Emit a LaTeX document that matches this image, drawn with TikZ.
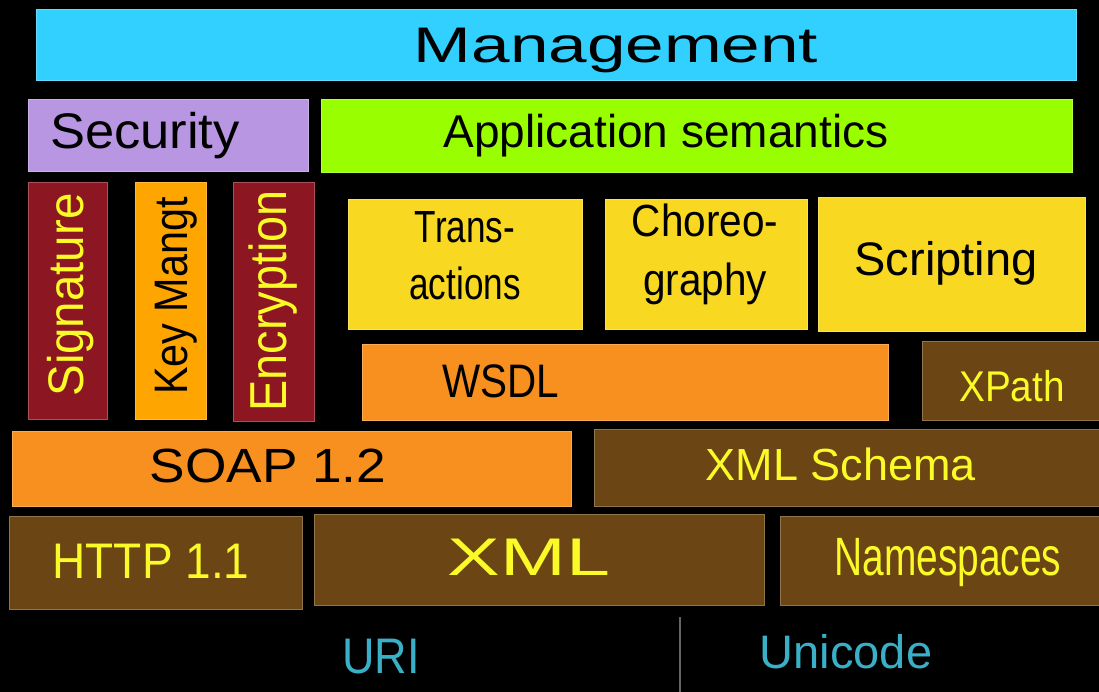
\documentclass[tikz,border=0pt]{standalone}
\usepackage{fontspec}
\usepackage{graphicx}
\setmainfont{Liberation Sans}
\definecolor{cMan}{RGB}{50,208,255}
\definecolor{cSec}{RGB}{185,150,225}
\definecolor{cApp}{RGB}{153,255,0}
\definecolor{cRed}{RGB}{140,22,34}
\definecolor{cKey}{RGB}{255,165,0}
\definecolor{cYel}{RGB}{248,216,32}
\definecolor{cOra}{RGB}{247,144,30}
\definecolor{cBro}{RGB}{107,69,19}
\definecolor{cTxtY}{RGB}{250,250,40}
\definecolor{cTeal}{RGB}{58,176,200}
\definecolor{cDiv}{RGB}{100,100,100}
\newcommand{\fs}[1]{\fontsize{#1}{#1}\selectfont}
\tikzset{
  blk/.style={rectangle, inner sep=0pt, outer sep=0pt, anchor=north west, line width=0.8pt, fill=#1, draw=#1!75!white},
  lbl/.style={inner sep=0pt, outer sep=0pt, anchor=base},
}
\begin{document}
\begin{tikzpicture}[x=1pt,y=-1pt]
\fill[black] (0,0) rectangle (1099,692);
\useasboundingbox (0,0) rectangle (1099,692);
% boxes
\node[blk=cMan, minimum width=1040, minimum height=71] (man) at (36,9) {};
\node[blk=cSec, minimum width=280, minimum height=72] (sec) at (28,99) {};
\node[blk=cApp, minimum width=751, minimum height=73] (app) at (321,99) {};
\node[blk=cRed, minimum width=79, minimum height=237] (sig) at (28,182) {};
\node[blk=cKey, minimum width=71, minimum height=237] (key) at (135,182) {};
\node[blk=cRed, minimum width=81, minimum height=239] (enc) at (233,182) {};
\node[blk=cYel, minimum width=234, minimum height=130] (tra) at (348,199) {};
\node[blk=cYel, minimum width=202, minimum height=130] (cho) at (605,199) {};
\node[blk=cYel, minimum width=267, minimum height=134] (scr) at (818,197) {};
\node[blk=cOra, minimum width=526, minimum height=76] (wsd) at (362,344) {};
\node[blk=cBro, minimum width=180, minimum height=79] (xpa) at (922,341) {};
\node[blk=cOra, minimum width=559, minimum height=75] (soa) at (12,431) {};
\node[blk=cBro, minimum width=508, minimum height=77] (xsc) at (594,429) {};
\node[blk=cBro, minimum width=293, minimum height=93] (htt) at (9,516) {};
\node[blk=cBro, minimum width=450, minimum height=91] (xml) at (314,514) {};
\node[blk=cBro, minimum width=322, minimum height=89] (nsp) at (780,516) {};
% labels
\node[lbl, font=\fs{50}] (tman) at (616,63) {\scalebox{1.385}[1]{Management}};
\node[lbl, font=\fs{50}] (tsec) at (145,149) {\scalebox{1.05}[1]{Security}};
\node[lbl, font=\fs{46}] (tapp) at (666,148) {Application semantics};
\node[lbl, font=\fs{50}, text=cTxtY, rotate=90] (tsig) at (83,295) {\scalebox{0.95}[1]{Signature}};
\node[lbl, font=\fs{47}, text=black, rotate=90] (tkey) at (187,296) {\scalebox{0.88}[1]{Key Mangt}};
\node[lbl, font=\fs{52}, text=cTxtY, rotate=90] (tenc) at (286,301) {\scalebox{0.9}[1]{Encryption}};
\node[lbl, font=\fontsize{45}{57}\selectfont] (ttra) at (465,300) {\scalebox{0.78}[1]{\begin{tabular}[b]{@{}c@{}}Trans-\\actions\end{tabular}}};
\node[lbl, font=\fontsize{45}{59}\selectfont] (tcho) at (705,296) {\scalebox{0.9}[1]{\begin{tabular}[b]{@{}c@{}}Choreo-\\graphy\end{tabular}}};
\node[lbl, font=\fs{47}] (tscr) at (946,276) {Scripting};
\node[lbl, font=\fs{47}] (twsd) at (501,397) {\scalebox{0.86}[1]{WSDL}};
\node[lbl, font=\fs{43}, text=cTxtY] (txpa) at (1012,401) {\scalebox{0.9}[1]{XPath}};
\node[lbl, font=\fs{48}] (tsoa) at (268,482) {\scalebox{1.11}[1]{SOAP 1.2}};
\node[lbl, font=\fs{45}, text=cTxtY] (txsc) at (841,480) {XML Schema};
\node[lbl, font=\fs{50}, text=cTxtY] (thtt) at (151,578) {\scalebox{0.92}[1]{HTTP 1.1}};
\node[lbl, font=\fs{53}, text=cTxtY] (txml) at (529,575) {\scalebox{1.49}[1]{XML}};
\node[lbl, font=\fs{54}, text=cTxtY] (tnsp) at (948,575) {\scalebox{0.72}[1]{Namespaces}};
\node[lbl, font=\fs{50}, text=cTeal] (turi) at (381,673) {\scalebox{0.9}[1]{URI}};
\node[lbl, font=\fs{47}, text=cTeal] (tuni) at (846,668) {Unicode};
% divider
\coordinate (divtop) at (680,617);
\coordinate (divbot) at (680,692);
\draw[cDiv, line width=1.5pt] (divtop) -- (divbot);
\end{tikzpicture}
\end{document}
